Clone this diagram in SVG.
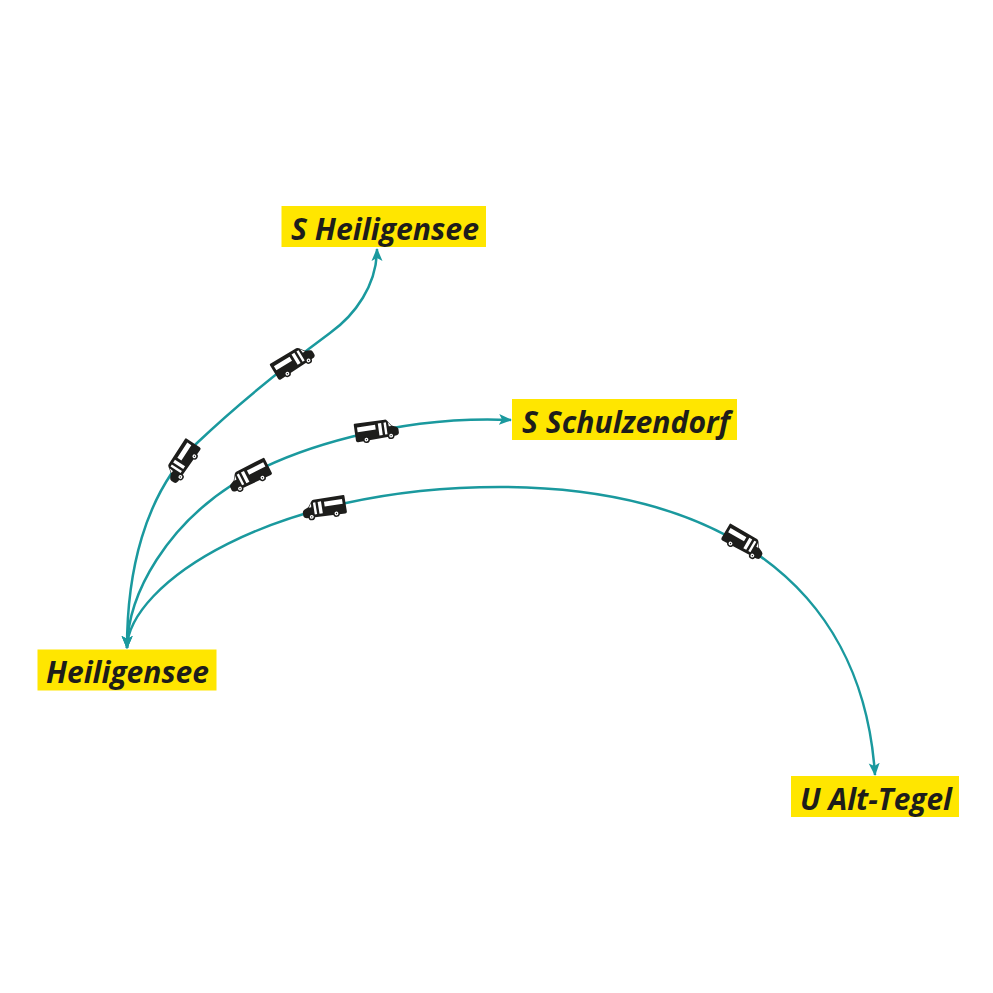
<svg xmlns="http://www.w3.org/2000/svg" xmlns:xlink="http://www.w3.org/1999/xlink" width="993" height="993" viewBox="0 0 993 993">
<style>
.lbl{fill:#ffe600}
.t{font-family:"Open Sans","Noto Sans",sans-serif;font-weight:700;font-style:italic;font-size:31px;fill:#1d1d1b}
.c{fill:none;stroke:#1a999e;stroke-width:2.500}
</style>
<defs>
<marker id="a" markerUnits="userSpaceOnUse" markerWidth="14" markerHeight="12" refX="12" refY="6" orient="auto-start-reverse" viewBox="0 0 14 12"><path d="M0,0.500 L13,6 L0,11.500 L3,6Z" fill="#1a999e"/></marker>
<g id="bus">
<path d="M-22,-10 Q-22,-11 -21,-11 L10.500,-11 Q12,-11 13,-9.500 L17,-4 L21.500,-2 Q23.500,-1 23.500,1 L23.500,4 Q23.500,6.500 20,7 L-20,8.500 Q-22,8.500 -22,6.500Z" fill="#1d1d1b"/>
<path d="M-19,-7 L0,-7 L0,-2 L-19,-2Z M3,-8 L6.500,-8 L6.500,4.500 L3,4.500Z M9,-8 L11.500,-8 L11.500,4.500 L9,4.500Z M13.500,-8 L16.500,-3.500 L14,-3.500Z" fill="#fff"/>
<circle cx="-11" cy="7" r="3.500" fill="#1d1d1b"/><circle cx="-11" cy="7" r="2" fill="#fff"/><circle cx="-11" cy="7" r="0.700" fill="#1d1d1b"/>
<circle cx="15" cy="6.500" r="3.500" fill="#1d1d1b"/><circle cx="15" cy="6.500" r="2" fill="#fff"/><circle cx="15" cy="6.500" r="0.700" fill="#1d1d1b"/>
</g>
</defs>
<g id="connectors">
<path class="c" marker-start="url(#a)" marker-end="url(#a)" d="M127,648 C127,575 143,495 197,443 C240,402 280,370 330,333 C355,315 377,285 377,249"/>
<path class="c" marker-start="url(#a)" marker-end="url(#a)" d="M127,648 C128,590 170,525 232,485 C290,448 400,415 511,420"/>
<path class="c" marker-start="url(#a)" marker-end="url(#a)" d="M127,648 C128,585 270,487 500,487 C710,487 862,578 875,775"/>
</g>
<g id="buses">
<use xlink:href="#bus" href="#bus" transform="translate(293,362.500) rotate(-31) scale(.96)"/>
<use xlink:href="#bus" href="#bus" transform="translate(183,461.500) rotate(-57) scale(-.96,.96)"/>
<use xlink:href="#bus" href="#bus" transform="translate(250,476.500) rotate(-27) scale(-.96,.96)"/>
<use xlink:href="#bus" href="#bus" transform="translate(376,431.500) rotate(-8) scale(.96)"/>
<use xlink:href="#bus" href="#bus" transform="translate(325,508.500) rotate(-9) scale(-.96,.96)"/>
<use xlink:href="#bus" href="#bus" transform="translate(743,543) rotate(30) scale(.96)"/>
</g>
<g id="s-heiligensee"><rect class="lbl" x="281.500" y="206" width="204.500" height="41"/><text class="t" x="291" y="240" textLength="188" lengthAdjust="spacingAndGlyphs">S Heiligensee</text></g>
<g id="s-schulzendorf"><rect class="lbl" x="512" y="399" width="225" height="41"/><text class="t" x="522" y="433" textLength="208" lengthAdjust="spacingAndGlyphs">S Schulzendorf</text></g>
<g id="heiligensee"><rect class="lbl" x="37.500" y="649.500" width="179" height="41"/><text class="t" x="46" y="683" textLength="163" lengthAdjust="spacingAndGlyphs">Heiligensee</text></g>
<g id="u-alt-tegel"><rect class="lbl" x="791" y="776" width="168" height="41"/><text class="t" x="800" y="810" textLength="152" lengthAdjust="spacingAndGlyphs">U Alt-Tegel</text></g>
</svg>
